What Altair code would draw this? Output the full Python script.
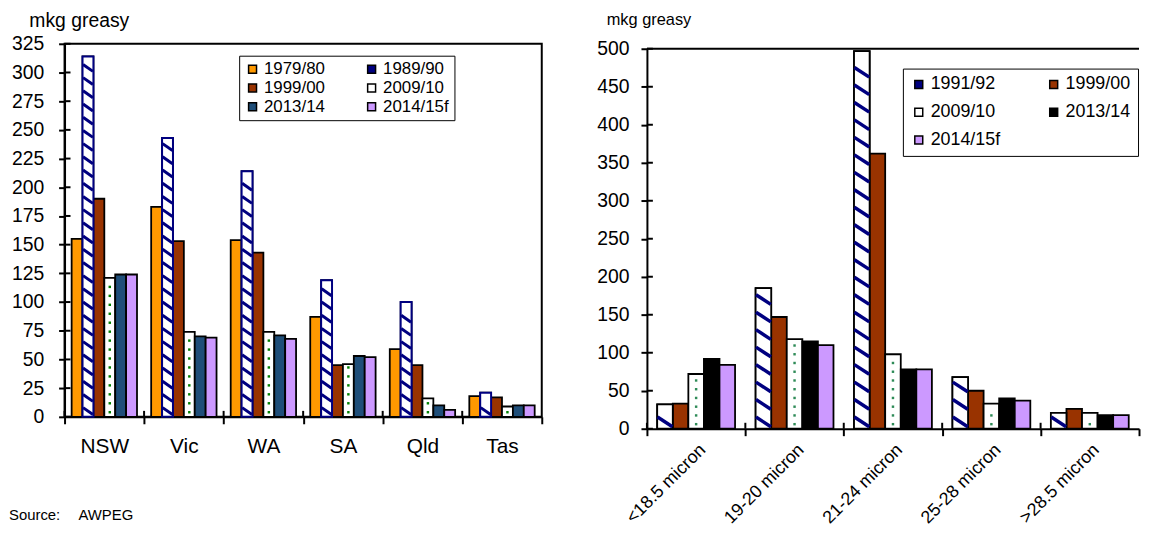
import altair as alt
import numpy as np
import pandas as pd

FONT = "Liberation Sans"

# ---------------- left chart data ----------------
states = ["NSW", "Vic", "WA", "SA", "Qld", "Tas"]
left_series = ["1979/80", "1989/90", "1999/00", "2009/10", "2013/14", "2014/15f"]
v_1979_80 = [155, 183, 154, 87, 59, 18]
v_1989_90 = [314, 243, 214, 119, 100, 21]
v_1999_00 = [190, 153, 143, 45, 45, 17]
v_2009_10 = [121, 74, 74, 46, 16, 9]
v_2013_14 = [124, 70, 71, 53, 10, 10]
v_2014_15f = [124, 69, 68, 52, 6, 10]
left_colors = ["#FF9900", "#000080", "#993300", "#FFFFFF", "#1F4E79", "#CC99FF"]
left_ticks = list(range(0, 326, 25))
# legend is laid out column by column: this order shows the rows as in the original
left_legend_order = ["1979/80", "1999/00", "2013/14", "1989/90", "2009/10", "2014/15f"]

# ---------------- right chart data ----------------
microns = ["<18.5 micron", "19-20 micron", "21-24 micron", "25-28 micron", ">28.5 micron"]
right_series = ["1991/92", "1999/00", "2009/10", "2013/14", "2014/15f"]
r_1991_92 = [32, 185, 497, 68, 21]
r_1999_00 = [33, 147, 362, 50, 26]
r_2009_10 = [72, 118, 98, 33, 21]
r_2013_14 = [92, 115, 78, 40, 18]
r_2014_15f = [84, 110, 78, 37, 18]
right_colors = ["#000080", "#993300", "#FFFFFF", "#000000", "#CC99FF"]
right_ticks = list(range(0, 501, 50))
right_legend_order = ["1991/92", "2009/10", "2014/15f", "1999/00", "2013/14"]

source_text = ["Source:", "AWPEG"]

NAVY = "#000080"

left_vals = [v_1979_80, v_1989_90, v_1999_00, v_2009_10, v_2013_14, v_2014_15f]
right_vals = [r_1991_92, r_1999_00, r_2009_10, r_2013_14, r_2014_15f]

left_df = pd.DataFrame(
    [{"cat": c, "series": s, "value": vals[i]}
     for s, vals in zip(left_series, left_vals) for i, c in enumerate(states)]
)
right_df = pd.DataFrame(
    [{"cat": c, "series": s, "value": vals[i]}
     for s, vals in zip(right_series, right_vals) for i, c in enumerate(microns)]
)

left_color_map = dict(zip(left_series, left_colors))
right_color_map = dict(zip(right_series, right_colors))


def pattern_rows(cats, vals, series, start, step, top_margin):
    rows = []
    for c, v in zip(cats, vals):
        for y in np.arange(start, v - top_margin, step):
            rows.append({"cat": c, "series": series, "value": float(y)})
    return pd.DataFrame(rows, columns=["cat", "series", "value"])


# decoration (hatch / dots) derived from the bar values
hatch_left = pattern_rows(states, v_1989_90, "1989/90", 5.0, 11.5, 4.5)
dots_left = pattern_rows(states, v_2009_10, "2009/10", 4.0, 7.8, 2.5)
hatch_right = pattern_rows(microns, r_1991_92, "1991/92", 9.0, 23.0, 9.0)
dots_right = pattern_rows(microns, r_2009_10, "2009/10", 6.0, 11.5, 4.0)

W_L, H_L = 481, 376
W_R, H_R = 496, 388
R_TOP = 5  # right plot starts a little lower than the left one
IN_TICK = 6  # inner half of the crossing tick marks

# ---------------- left chart ----------------
xL = alt.X("cat:N", sort=states,
           scale=alt.Scale(domain=states, paddingInner=0, paddingOuter=0),
           axis=alt.Axis(title=None, tickBand="extent", labelAngle=0, labelFontSize=21,
                         tickSize=7, tickWidth=2, labelPadding=12, domainWidth=2,
                         domainColor="black", tickColor="black", labelColor="black"))
xoL = alt.XOffset("series:N", sort=left_series,
                  scale=alt.Scale(domain=left_series, paddingInner=0, paddingOuter=0.65))
yL = alt.Y("value:Q",
           scale=alt.Scale(domain=[0, 325], nice=False, zero=True),
           axis=alt.Axis(values=left_ticks, title="mkg greasy", titleAngle=0,
                         titleAlign="left", titleBaseline="alphabetic", titleX=-36,
                         titleY=-17, titleFontSize=19.5, titleFontWeight="normal",
                         labelFontSize=19.5, tickSize=6, tickWidth=2, labelPadding=15,
                         domainWidth=2, grid=False, minExtent=56, maxExtent=56,
                         domainColor="black", tickColor="black", labelColor="black",
                         titleColor="black"))

left_legend = alt.Legend(title=None, orient="none", legendX=176, legendY=12, columns=2,
                         symbolType="square", symbolSize=64, symbolStrokeColor="black",
                         symbolStrokeWidth=1.5, labelFontSize=17, labelOffset=3,
                         columnPadding=38, rowPadding=1, padding=5, strokeColor="black",
                         fillColor="white", labelColor="black", labelLimit=0)

baseL = alt.Chart(left_df).encode(x=xL, xOffset=xoL, y=yL)
barsL = baseL.mark_bar(stroke="black", strokeWidth=1.8).encode(
    fill=alt.Fill("series:N", sort=left_legend_order,
                  scale=alt.Scale(domain=left_legend_order,
                                  range=[left_color_map[s] for s in left_legend_order]),
                  legend=left_legend))
hatchbgL = baseL.transform_filter(alt.datum.series == "1989/90").mark_bar(
    fill="white", stroke=NAVY, strokeWidth=2)
hatchL = alt.Chart(hatch_left).mark_point(
    shape="M-1,-0.7L1,0.7", size=100, stroke=NAVY, strokeWidth=3, filled=False,
    opacity=1, strokeCap="butt").encode(x=xL, xOffset=xoL, y=yL)
dotsL = alt.Chart(dots_left).mark_square(size=6, color="#008000", opacity=1).encode(
    x=xL, xOffset=xoL, y=yL)
ytickL = alt.Chart(pd.DataFrame({"value": left_ticks})).mark_rule(
    color="black", strokeWidth=2).encode(x=alt.value(0), x2=alt.value(IN_TICK), y=yL)
xtickL = alt.Chart(pd.DataFrame({"cat": states})).mark_rule(
    color="black", strokeWidth=2).encode(
    x=alt.X("cat:N", sort=states, bandPosition=0), y=alt.value(H_L - IN_TICK),
    y2=alt.value(H_L))
srcL1 = alt.Chart(pd.DataFrame({"t": [source_text[0]]})).mark_text(
    align="left", baseline="alphabetic", fontSize=15, color="black").encode(
    x=alt.value(-56), y=alt.value(480), text="t:N")
srcL2 = alt.Chart(pd.DataFrame({"t": [source_text[1]]})).mark_text(
    align="left", baseline="alphabetic", fontSize=15, color="black").encode(
    x=alt.value(14), y=alt.value(480), text="t:N")

left = alt.layer(barsL, hatchbgL, hatchL, dotsL, ytickL, xtickL, srcL1, srcL2).properties(
    width=W_L, height=H_L, view=alt.ViewBackground(stroke="black", strokeWidth=2))

# ---------------- right chart ----------------
xR = alt.X("cat:N", sort=microns,
           scale=alt.Scale(domain=microns, paddingInner=0, paddingOuter=0),
           axis=alt.Axis(title=None, tickBand="extent", labelAngle=315, labelFontSize=18,
                         tickSize=7, tickWidth=2, labelPadding=5, domainWidth=2,
                         domainColor="black", tickColor="black", labelColor="black"))
xoR = alt.XOffset("series:N", sort=right_series,
                  scale=alt.Scale(domain=right_series, paddingInner=0, paddingOuter=0.66))
yR = alt.Y("value:Q",
           scale=alt.Scale(domain=[0, 500], nice=False, zero=True, range=[H_R, R_TOP]),
           axis=alt.Axis(values=right_ticks, title="mkg greasy", titleAngle=0,
                         titleAlign="left", titleBaseline="alphabetic", titleX=-41,
                         titleY=-19, titleFontSize=16.5, titleFontWeight="normal",
                         labelFontSize=19.5, tickSize=6, tickWidth=2, labelPadding=12,
                         domainWidth=2, grid=False, minExtent=58, maxExtent=58,
                         domainColor="black", tickColor="black", labelColor="black",
                         titleColor="black"))

right_legend = alt.Legend(title=None, orient="none", legendX=258, legendY=20 + R_TOP, columns=2,
                          symbolType="square", symbolSize=64, symbolStrokeColor="black",
                          symbolStrokeWidth=1.5, labelFontSize=18, labelOffset=3,
                          columnPadding=44, rowPadding=10, padding=7, strokeColor="black",
                          fillColor="white", labelColor="black", labelLimit=0)

baseR = alt.Chart(right_df).encode(x=xR, xOffset=xoR, y=yR)
barsR = baseR.mark_bar(stroke="black", strokeWidth=1.8).encode(
    fill=alt.Fill("series:N", sort=right_legend_order,
                  scale=alt.Scale(domain=right_legend_order,
                                  range=[right_color_map[s] for s in right_legend_order]),
                  legend=right_legend))
hatchbgR = baseR.transform_filter(alt.datum.series == "1991/92").mark_bar(
    fill="white", stroke="black", strokeWidth=1.8)
hatchR = alt.Chart(hatch_right).mark_point(
    shape="M-1,-0.65L1,0.65", size=225, stroke=NAVY, strokeWidth=3.5, filled=False,
    opacity=1, strokeCap="butt").encode(x=xR, xOffset=xoR, y=yR)
dotsR = alt.Chart(dots_right).mark_square(size=6, color="#2E8B57", opacity=1).encode(
    x=xR, xOffset=xoR, y=yR)
topR = alt.Chart(pd.DataFrame({"a": [0]})).mark_rule(color="black", strokeWidth=2).encode(
    x=alt.value(0), x2=alt.value(W_R), y=alt.value(R_TOP))
ytickR = alt.Chart(pd.DataFrame({"value": right_ticks})).mark_rule(
    color="black", strokeWidth=2).encode(x=alt.value(0), x2=alt.value(IN_TICK), y=yR)
xtickR = alt.Chart(pd.DataFrame({"cat": microns})).mark_rule(
    color="black", strokeWidth=2).encode(
    x=alt.X("cat:N", sort=microns, bandPosition=0), y=alt.value(H_R - IN_TICK),
    y2=alt.value(H_R))

right = alt.layer(barsR, hatchbgR, hatchR, dotsR, topR, ytickR, xtickR).properties(
    width=W_R, height=H_R, view=alt.ViewBackground(stroke="transparent"))

chart = alt.hconcat(left, right, spacing=45).resolve_scale(
    x="independent", y="independent", fill="independent", xOffset="independent"
).properties(
    padding={"left": 0, "top": 0, "right": 0, "bottom": 0}
).configure(font=FONT)

chart.save("out.html", embed_options={"renderer": "svg", "actions": False})
